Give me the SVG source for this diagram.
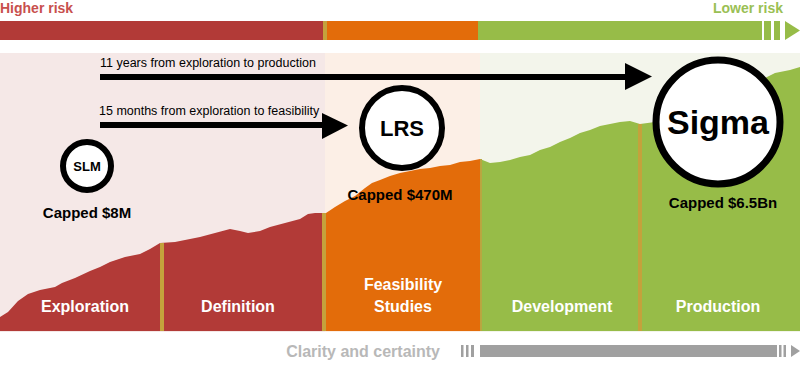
<svg xmlns="http://www.w3.org/2000/svg" width="800" height="366" viewBox="0 0 800 366">
<style>
.t{font-family:"Liberation Sans",Arial,sans-serif}
.b{font-weight:bold}
.ph{font-family:"Liberation Sans",Arial,sans-serif;font-weight:bold;font-size:16px;fill:#fff;text-anchor:middle}
.cap{font-family:"Liberation Sans",Arial,sans-serif;font-weight:bold;font-size:15px;fill:#000;text-anchor:middle}
.ring{fill:#fff;stroke:#000}
.gold{fill:#c4a23c}
</style>
<rect width="800" height="366" fill="#fff"/>
<!-- top risk bar -->
<text class="t b" x="0" y="13" font-size="14" fill="#c8504d">Higher risk</text>
<text class="t b" x="783" y="13" font-size="14" fill="#9ac054" text-anchor="end">Lower risk</text>
<rect x="0" y="21" width="323" height="19" fill="#b23a37"/>
<rect x="323" y="21" width="4" height="19" class="gold"/>
<rect x="327" y="21" width="151" height="19" fill="#e36c0a"/>
<rect x="478" y="21" width="284" height="19" fill="#97bc48"/>
<rect x="764" y="21" width="7" height="19" fill="#97bc48"/>
<rect x="774" y="21" width="6" height="19" fill="#97bc48"/>
<polygon points="785,21 800,30.5 785,40" fill="#97bc48"/>
<!-- background bands -->
<rect x="0" y="53" width="325" height="279" fill="#f5e8e7"/>
<rect x="325" y="53" width="155" height="279" fill="#fcefe6"/>
<rect x="480" y="53" width="320" height="279" fill="#f3f5eb"/>
<!-- mountain -->
<g id="exploration-definition">
<path fill="#b23a37" d="M0,331 L0,317 L8,312 L18,301 L28,294 L40,290 L55,287 L62,283 L75,278 L90,271 L100,267 L110,262 L125,257 L140,254 L150,249 L160,243 L175,242 L190,239 L200,237 L215,233 L230,229 L240,231 L248,233 L260,231 L270,227 L285,223 L300,219 L308,214 L315,213 L322,213 L322,331 Z"/>
</g>
<g id="feasibility-area">
<path fill="#e36c0a" d="M326,331 L326,213 L335,207 L345,201 L355,196 L365,188 L372,183 L380,180 L390,176 L400,173 L410,171 L420,169 L430,168 L440,166 L450,165 L460,162 L470,161 L480,159 L480,331 Z"/>
</g>
<g id="development-production-area">
<path fill="#97bc48" d="M480,331 L480,159 L490,163 L500,162 L510,160 L520,157 L530,155 L540,150 L550,147 L560,142 L570,138 L580,133 L590,130 L600,126 L610,124 L620,122 L630,121 L640,124 L655,122 L670,121 L690,114 L720,100 L750,86 L765,78 L775,73 L790,70 L800,67 L800,331 Z"/>
</g>
<rect x="160" y="243" width="4" height="88" class="gold"/>
<rect x="322" y="213" width="4" height="118" class="gold"/>
<rect x="480" y="159" width="2" height="172" fill="#b9a640"/>
<rect x="638" y="124" width="4" height="207" class="gold"/>
<!-- phase labels -->
<text class="ph" x="85" y="312">Exploration</text>
<text class="ph" x="238" y="312">Definition</text>
<text class="ph" x="403" y="290">Feasibility</text>
<text class="ph" x="403" y="312">Studies</text>
<text class="ph" x="562" y="312">Development</text>
<text class="ph" x="718" y="312">Production</text>
<!-- connectors -->
<g id="connectors">
<text class="t" x="100" y="67" font-size="12.5" fill="#000">11 years from exploration to production</text>
<rect x="100" y="74" width="527" height="6" fill="#000"/>
<polygon points="625,63 652,76.5 625,90" fill="#000"/>
<text class="t" x="99" y="115" font-size="12.5" fill="#000">15 months from exploration to feasibility</text>
<rect x="100" y="122" width="224" height="6" fill="#000"/>
<polygon points="322,113 348,125.5 322,139" fill="#000"/>
</g>
<!-- nodes -->
<g id="SLM">
<circle class="ring" cx="87" cy="166" r="24" stroke-width="6"/>
<text class="t b" x="87" y="171" font-size="13" text-anchor="middle">SLM</text>
<text class="cap" x="87" y="218">Capped $8M</text>
</g>
<g id="LRS">
<circle class="ring" cx="402" cy="128" r="40" stroke-width="6"/>
<text class="t b" x="402" y="136" font-size="22" text-anchor="middle">LRS</text>
<text class="cap" x="400" y="200">Capped $470M</text>
</g>
<g id="Sigma">
<circle class="ring" cx="718" cy="122" r="62" stroke-width="7"/>
<text class="t b" x="718" y="134" font-size="34" text-anchor="middle">Sigma</text>
<text class="cap" x="723" y="208">Capped $6.5Bn</text>
</g>
<!-- bottom clarity bar -->
<text class="t b" x="440" y="357" font-size="16" fill="#b8b8b8" text-anchor="end">Clarity and certainty</text>
<rect x="461" y="345" width="2.5" height="12" fill="#a0a0a0"/>
<rect x="466" y="345" width="2.5" height="12" fill="#a0a0a0"/>
<rect x="471" y="345" width="3" height="12" fill="#a0a0a0"/>
<rect x="480" y="345" width="297" height="12" fill="#a0a0a0"/>
<rect x="779" y="345" width="2.5" height="12" fill="#a0a0a0"/>
<rect x="783.5" y="345" width="2.5" height="12" fill="#a0a0a0"/>
<polygon points="791,345 800,351 791,357" fill="#a0a0a0"/>
</svg>
